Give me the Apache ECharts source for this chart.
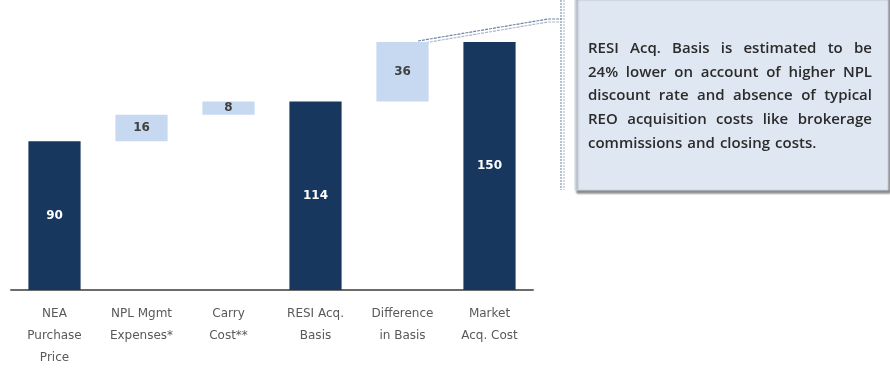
<!DOCTYPE html>
<html>
<head>
<meta charset="utf-8">
<script src="https://cdn.jsdelivr.net/npm/echarts@6/dist/echarts.min.js"></script>
<style>
html,body{margin:0;padding:0;background:#fff;}
#chart{width:890px;height:369px;}
</style>
</head>
<body>
<div id="chart"></div>
<script>
// ---- data ----
var categories = ['NEA\nPurchase\nPrice', 'NPL Mgmt\nExpenses*', 'Carry\nCost**', 'RESI Acq.\nBasis', 'Difference\nin Basis', 'Market\nAcq. Cost'];
var values = [90, 16, 8, 114, 36, 150];
var kinds = ['total', 'delta', 'delta', 'total', 'delta', 'total'];
var noteLines = [
  'RESI Acq. Basis is estimated to be',
  '24% lower on account of higher NPL',
  'discount rate and absence of typical',
  'REO acquisition costs like brokerage',
  'commissions and closing costs.'
];

var DARK = '#17375e', LIGHT = '#c6d9f1';
// build waterfall offsets from values
var base = [], shown = [], running = 0;
for (var i = 0; i < values.length; i++) {
  if (kinds[i] === 'total') { base.push(0); running = values[i]; }
  else { base.push(running); running += values[i]; }
  shown.push({
    value: values[i],
    itemStyle: { color: kinds[i] === 'total' ? DARK : LIGHT },
    label: { color: kinds[i] === 'total' ? '#ffffff' : '#404040' }
  });
}

// justified note text (word positions measured with canvas)
var NOTE_FONT = '600 15px "Open Sans"';
var noteX = 588, noteW = 284, noteY0 = 41, noteLH = 23.8;
var ctx = document.createElement('canvas').getContext('2d');
ctx.font = NOTE_FONT;
var noteGraphics = [];
noteLines.forEach(function (line, li) {
  var words = line.split(' ');
  var widths = words.map(function (w) { return ctx.measureText(w).width; });
  var total = widths.reduce(function (a, b) { return a + b; }, 0);
  var last = li === noteLines.length - 1;
  var gap = last ? ctx.measureText(' ').width * 1.3 : (noteW - total) / (words.length - 1);
  var x = noteX;
  words.forEach(function (w, wi) {
    noteGraphics.push({ type: 'text', x: x, y: noteY0 + li * noteLH,
      style: { text: w, fill: '#2b2b2b', font: NOTE_FONT, textVerticalAlign: 'top' } });
    x += widths[wi] + gap;
  });
});

var chart = echarts.init(document.getElementById('chart'));
var option = {
  animation: false,
  grid: { left: 11, right: 357, top: 42, bottom: 76 },
  xAxis: {
    type: 'category',
    data: categories,
    axisLine: { lineStyle: { color: '#6b6b6b', width: 2 } },
    axisTick: { show: false },
    axisLabel: { color: '#595959', fontSize: 12, lineHeight: 22, margin: 13, fontFamily: 'DejaVu Sans', interval: 0 }
  },
  yAxis: { type: 'value', min: 0, max: 150, show: false, splitLine: { show: false } },
  series: [
    { type: 'bar', stack: 'w', data: base, barWidth: '60%', itemStyle: { color: 'transparent' }, silent: true },
    { type: 'bar', stack: 'w', data: shown, barWidth: '60%',
      label: { show: true, position: 'inside', fontSize: 12, fontWeight: 'bold', fontFamily: 'DejaVu Sans' } }
  ],
  graphic: [
    { type: 'rect', shape: { x: 575, y: -4, width: 313, height: 194 },
      style: { fill: '#dfe7f2', stroke: '#c9d3e0', lineWidth: 1, shadowColor: 'rgba(60,60,60,0.6)', shadowOffsetX: 2, shadowOffsetY: 3, shadowBlur: 2 } },
    { type: 'line', shape: { x1: 561, y1: 0, x2: 561, y2: 190 }, style: { stroke: '#8497b0', lineWidth: 1.2, lineDash: [2, 1] } },
    { type: 'line', shape: { x1: 564, y1: 0, x2: 564, y2: 190 }, style: { stroke: '#b4c2d4', lineWidth: 1.2, lineDash: [2, 1] } },
    { type: 'polyline', shape: { points: [[418, 41], [548, 19], [562, 19]] }, style: { stroke: '#6f85a3', lineWidth: 1.2, lineDash: [3, 1] } },
    { type: 'polyline', shape: { points: [[418, 44], [548, 22], [562, 22]] }, style: { stroke: '#a8b8cc', lineWidth: 1.2, lineDash: [3, 1] } }
  ].concat(noteGraphics)
};
chart.setOption(option);
</script>
</body>
</html>
